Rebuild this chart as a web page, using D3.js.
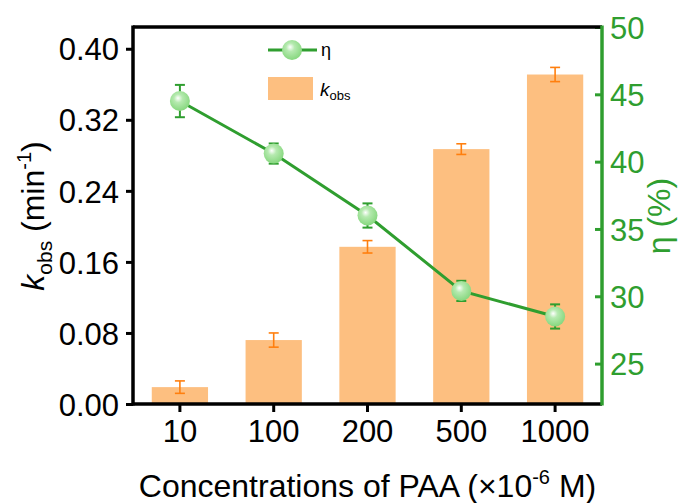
<!DOCTYPE html>
<html lang="en">
<head>
    <meta charset="UTF-8">
    <title>kobs and removal vs PAA concentration</title>
    <style>
        body { margin: 0; background: #fff; font-family: "Liberation Sans", Arial, sans-serif; }
        svg text { font-family: "Liberation Sans", Arial, sans-serif; }
    </style>
</head>
<body>
    <svg id="chart" width="687" height="503"></svg>

    <script src="https://d3js.org/d3.v7.min.js"></script>
    <script>
        // data
        const categories = ["10", "100", "200", "500", "1000"];
        const kobs = [0.019, 0.072, 0.177, 0.287, 0.371];
        const kobsErr = [0.007, 0.008, 0.007, 0.006, 0.008];
        const eta = [44.5, 40.6, 36.0, 30.4, 28.5];
        const etaErr = [1.2, 0.75, 0.9, 0.75, 0.9];
        const leftTicks = [0, 0.08, 0.16, 0.24, 0.32, 0.40];
        const rightTicks = [25, 30, 35, 40, 45, 50];

        const green = "#2f9e2f";
        const barFill = "#fdbf80";
        const errOrange = "#ff7f0e";

        const pLeft = 133, pRight = 602, pTop = 27, pBottom = 404;
        const svg = d3.select("#chart");

        const x = d3.scaleBand().domain(categories).range([pLeft, pRight]).padding(0);
        const yL = d3.scaleLinear().domain([0, 0.4245]).range([pBottom, pTop]);
        const yR = d3.scaleLinear().domain([22.0, 50]).range([pBottom, pTop]);

        // gradient for the eta markers
        const defs = svg.append("defs");
        const grad = defs.append("radialGradient")
            .attr("id", "ball").attr("cx", "45%").attr("cy", "40%").attr("r", "60%")
            .attr("fx", "40%").attr("fy", "35%");
        grad.append("stop").attr("offset", "0%").attr("stop-color", "#ffffff");
        grad.append("stop").attr("offset", "35%").attr("stop-color", "#b6eab0");
        grad.append("stop").attr("offset", "100%").attr("stop-color", "#86d77e");

        // bars
        const bw = x.bandwidth() * 0.6;
        svg.append("g").selectAll("rect").data(kobs).join("rect")
            .attr("x", (d, i) => x(categories[i]) + (x.bandwidth() - bw) / 2)
            .attr("y", d => yL(d))
            .attr("width", bw)
            .attr("height", d => yL(0) - yL(d))
            .attr("fill", barFill);

        // bar error bars
        const eb = svg.append("g").attr("stroke", errOrange).attr("stroke-width", 1.6);
        kobs.forEach((d, i) => {
            const cx = x(categories[i]) + x.bandwidth() / 2;
            const y1 = yL(d + kobsErr[i]), y2 = yL(d - kobsErr[i]);
            eb.append("line").attr("x1", cx).attr("x2", cx).attr("y1", y1).attr("y2", y2);
            eb.append("line").attr("x1", cx - 5).attr("x2", cx + 5).attr("y1", y1).attr("y2", y1);
            eb.append("line").attr("x1", cx - 5).attr("x2", cx + 5).attr("y1", y2).attr("y2", y2);
        });

        // eta line
        const cxOf = i => x(categories[i]) + x.bandwidth() / 2;
        svg.append("path")
            .datum(eta)
            .attr("fill", "none")
            .attr("stroke", green)
            .attr("stroke-width", 3)
            .attr("d", d3.line().x((d, i) => cxOf(i)).y(d => yR(d)));

        const ge = svg.append("g").attr("stroke", green).attr("stroke-width", 2);
        eta.forEach((d, i) => {
            const cx = cxOf(i);
            const y1 = yR(d + etaErr[i]), y2 = yR(d - etaErr[i]);
            ge.append("line").attr("x1", cx).attr("x2", cx).attr("y1", y1).attr("y2", y2);
            ge.append("line").attr("x1", cx - 5).attr("x2", cx + 5).attr("y1", y1).attr("y2", y1);
            ge.append("line").attr("x1", cx - 5).attr("x2", cx + 5).attr("y1", y2).attr("y2", y2);
        });
        svg.append("g").selectAll("circle").data(eta).join("circle")
            .attr("cx", (d, i) => cxOf(i))
            .attr("cy", d => yR(d))
            .attr("r", 10)
            .attr("fill", "url(#ball)");

        // axes
        const fs = "31px";
        const axL = svg.append("g").attr("transform", `translate(${pLeft},0)`)
            .call(d3.axisLeft(yL).tickValues(leftTicks).tickFormat(d3.format(".2f")).tickSize(7).tickSizeOuter(0));
        axL.select(".domain").remove();
        axL.selectAll(".tick line").attr("stroke", "#000").attr("stroke-width", 3);
        axL.selectAll(".tick text").attr("font-size", fs).attr("fill", "#000").attr("x", -14).attr("dy", "0.36em");

        const axR = svg.append("g").attr("transform", `translate(${pRight},0)`)
            .call(d3.axisRight(yR).tickValues(rightTicks).tickSize(-7).tickSizeOuter(0));
        axR.select(".domain").remove();
        axR.selectAll(".tick line").attr("stroke", green).attr("stroke-width", 3);
        axR.selectAll(".tick text").attr("font-size", fs).attr("fill", green).attr("x", 8).attr("dy", "0.36em");

        const axB = svg.append("g").attr("transform", `translate(0,${pBottom})`)
            .call(d3.axisBottom(x).tickSize(8).tickSizeOuter(0));
        axB.select(".domain").remove();
        axB.selectAll(".tick line").attr("stroke", "#000").attr("stroke-width", 3);
        axB.selectAll(".tick text").attr("font-size", fs).attr("fill", "#000").attr("y", 16).attr("dy", "0.71em");

        // frame
        svg.append("line").attr("x1", pLeft).attr("x2", pRight).attr("y1", pTop).attr("y2", pTop)
            .attr("stroke", "#000").attr("stroke-width", 3.5);
        svg.append("line").attr("x1", pLeft).attr("x2", pLeft).attr("y1", pTop - 1.5).attr("y2", pBottom + 1.5)
            .attr("stroke", "#000").attr("stroke-width", 3.5);
        svg.append("line").attr("x1", pLeft).attr("x2", pRight).attr("y1", pBottom).attr("y2", pBottom)
            .attr("stroke", "#000").attr("stroke-width", 3.5);
        svg.append("line").attr("x1", pRight).attr("x2", pRight).attr("y1", pTop - 1.5).attr("y2", pBottom + 1.5)
            .attr("stroke", green).attr("stroke-width", 3.5);

        // axis titles
        const xt = svg.append("text").attr("x", (pLeft + pRight) / 2).attr("y", 497)
            .attr("text-anchor", "middle").attr("font-size", "32px").attr("fill", "#000");
        xt.append("tspan").text("Concentrations of PAA (\u00d710");
        xt.append("tspan").attr("font-size", "20px").attr("dy", -13).text("-6");
        xt.append("tspan").attr("dy", 13).text(" M)");

        const yt = svg.append("text").attr("transform", "translate(44,216) rotate(-90)")
            .attr("text-anchor", "middle").attr("font-size", "32px").attr("fill", "#000");
        yt.append("tspan").attr("font-style", "italic").text("k");
        yt.append("tspan").attr("font-size", "21px").attr("dy", 8).text("obs");
        yt.append("tspan").attr("dy", -8).text(" (min");
        yt.append("tspan").attr("font-size", "20px").attr("dy", -13).text("-1");
        yt.append("tspan").attr("dy", 13).text(")");

        svg.append("text").attr("transform", "translate(670,216) rotate(-90)")
            .attr("text-anchor", "middle").attr("font-size", "32px").attr("fill", green)
            .text("\u03b7 (%)");

        // legend
        const lg = svg.append("g");
        lg.append("line").attr("x1", 268).attr("x2", 317).attr("y1", 50).attr("y2", 50)
            .attr("stroke", green).attr("stroke-width", 3);
        lg.append("circle").attr("cx", 292).attr("cy", 50).attr("r", 10).attr("fill", "url(#ball)");
        lg.append("text").attr("x", 321).attr("y", 56).attr("font-size", "18px").text("\u03b7");
        lg.append("rect").attr("x", 268).attr("y", 77).attr("width", 45).attr("height", 23).attr("fill", barFill);
        const lk = lg.append("text").attr("x", 320).attr("y", 96).attr("font-size", "19px");
        lk.append("tspan").attr("font-style", "italic").text("k");
        lk.append("tspan").attr("font-size", "13px").attr("dy", 4).text("obs");
    </script>
</body>
</html>
